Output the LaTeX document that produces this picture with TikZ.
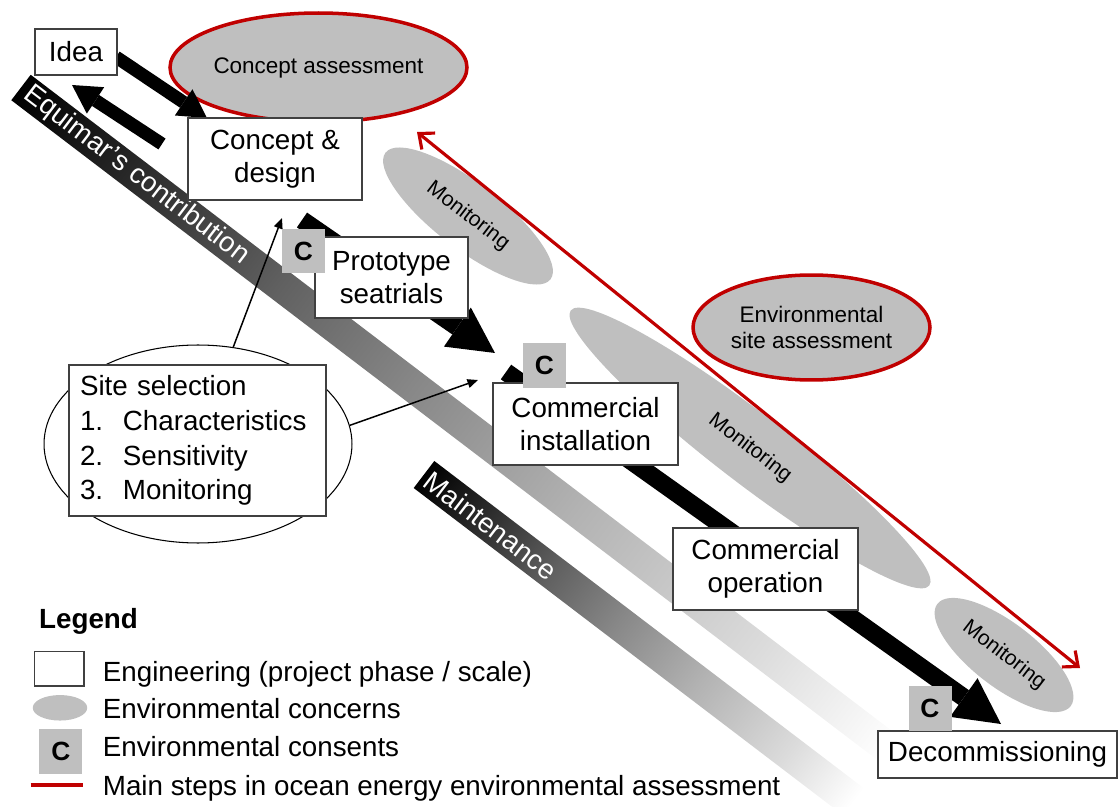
\documentclass[tikz,border=0pt]{standalone}
\usepackage{fontspec}
\setmainfont{Liberation Sans}
\usetikzlibrary{arrows.meta,shapes.geometric}

\definecolor{rojo}{HTML}{C00000}
\definecolor{gris}{HTML}{BFBFBF}
\definecolor{borde}{HTML}{404040}

% Degradado de las bandas (de negro a blanco)
\pgfdeclarehorizontalshading{bandfade}{100bp}{color(0bp)=(black); color(25bp)=(black); color(31bp)=(black!85); color(40bp)=(black!62); color(47.5bp)=(black!47); color(57bp)=(black!30); color(67.5bp)=(black!14); color(75bp)=(white); color(100bp)=(white)}

\begin{document}
\begin{tikzpicture}[
        x=0.02cm, y=-0.02cm,
        % Estilo para las fases de ingeniería (cajas blancas)
        phase/.style={draw=borde, line width=0.8pt, fill=white, align=center, inner sep=0pt, font=\fontsize{15.8}{18.9}\selectfont},
        % Estilo para las preocupaciones ambientales (elipses grises)
        concern/.style={ellipse, fill=gris, inner sep=0pt, rotate=-37.5, font=\fontsize{12}{14}\selectfont},
        % Estilo para las evaluaciones (elipses con borde rojo)
        assess/.style={ellipse, draw=rojo, line width=2pt, fill=gris, inner sep=0pt, minimum width=4.74cm, align=center, font=\fontsize{12.8}{15.1}\selectfont},
        % Estilo para los consentimientos
        consent/.style={fill=gris, minimum width=0.86cm, minimum height=0.9cm, inner sep=0pt, font=\fontsize{15}{18}\selectfont\bfseries},
        % Estilo para las bandas diagonales
        band/.style={shading=bandfade},
        bandtext/.style={text=white, font=\fontsize{15.8}{19}\selectfont},
        % Estilo para las flechas
        bigarrow/.style={line width=10.2pt, -{Triangle[length=26pt, width=27pt, line width=0pt]}},
        smallarrow/.style={line width=7.4pt, -{Triangle[length=16pt, width=18pt, line width=0pt]}},
        thinarrow/.style={line width=0.85pt, -{Triangle[length=6pt, width=5pt]}},
        redstep/.style={draw=rojo, line width=1.8pt, {Straight Barb[length=7pt, width=12pt]}-{Straight Barb[length=7pt, width=12pt]}},
        % Estilo para los textos de la leyenda
        legendtext/.style={anchor=base west, font=\fontsize{15.8}{19}\selectfont}
    ]
        \useasboundingbox (0,0) rectangle (1119,807);

        % --- Bandas diagonales ---
        \begin{scope}[transform canvas={shift={(21,87.5)}, rotate=-37.3}]
            \shade[band] (0,-16) rectangle (1092,16);
            \node[bandtext] (EQ) at (145,0) {Equimar’s contribution};
        \end{scope}
        \begin{scope}[transform canvas={shift={(424,474.5)}, rotate=-37.3}]
            \shade[band] (0,-17) rectangle (540,17);
            \node[bandtext] (MT) at (84,0) {Maintenance};
        \end{scope}

        % --- Elipses de seguimiento ---
        \node[concern, minimum width=4.16cm, minimum height=1.32cm] (M1) at (468,216) {Monitoring};
        \node[concern, minimum width=9.04cm, minimum height=1.40cm] (M2) at (750,448) {Monitoring};
        \node[concern, minimum width=3.36cm, minimum height=1.28cm] (M3) at (1004,655) {Monitoring};

        % --- Evaluaciones ---
        \node[assess, minimum height=2.18cm] (CA) at (318.5,67.5) {Concept assessment};
        \node[assess, minimum height=2.10cm] (SA) at (811.5,327.5) {Environmental\\site assessment};

        % Flecha roja: pasos principales
        \coordinate (R1) at (417,132);
        \coordinate (R2) at (1080,668);
        \draw[redstep] (R1) -- (R2);

        % --- Seleccion del sitio ---
        \node[draw, ellipse, line width=0.6pt, fill=white, minimum width=6.16cm, minimum height=3.96cm, inner sep=0pt] (SZ) at (198,444) {};

        % --- Flechas negras ---
        \coordinate (A1) at (116,57);
        \coordinate (A2) at (207,118);
        \coordinate (A3) at (162,144);
        \coordinate (A4) at (72,85);
        \coordinate (A5) at (302,220);
        \coordinate (A6) at (495,353);
        \coordinate (A7) at (506,372);
        \coordinate (A8) at (1001,724);
        \draw[smallarrow] (A1) -- (A2);
        \draw[smallarrow] (A3) -- (A4);
        \draw[bigarrow] (A5) -- (A6);
        \draw[bigarrow] (A7) -- (A8);

        % Flechas finas desde la seleccion del sitio
        \coordinate (T1) at (282,218);
        \coordinate (T2) at (478,380);
        \draw[thinarrow] (SZ.70) -- (T1);
        \draw[thinarrow] (SZ.7) -- (T2);

        % --- Fases del proyecto ---
        \node[phase, minimum width=1.64cm, minimum height=0.92cm] (ID) at (76,52) {Idea};
        \node[phase, minimum width=3.48cm, minimum height=1.64cm] (CD) at (275,159) {Concept \&\\design};
        \node[phase, minimum width=3.06cm, minimum height=1.62cm] (PS) at (391.5,277.5) {Prototype\\seatrials};
        \node[phase, minimum width=3.70cm, minimum height=1.64cm] (CI) at (585.5,424) {Commercial\\installation};
        \node[phase, minimum width=3.70cm, minimum height=1.64cm] (CO) at (765.5,569) {Commercial\\operation};
        \node[phase, minimum width=4.78cm, minimum height=0.94cm] (DC) at (997.5,754.5) {Decommissioning};
        \node[phase, align=left, text width=4.70cm, inner xsep=0.22cm, minimum height=3.02cm, font=\fontsize{15.8}{19.8}\selectfont] (SB) at (197.5,440.5)
            {Site selection\\
             \makebox[24.4pt][l]{1.}Characteristics\\
             \makebox[24.4pt][l]{2.}Sensitivity\\
             \makebox[24.4pt][l]{3.}Monitoring};

        % --- Consentimientos ---
        \node[consent] (C1) at (303.5,251) {C};
        \node[consent] (C2) at (544.5,365.5) {C};
        \node[consent] (C3) at (930,708.5) {C};

        % --- Leyenda ---
        \node[legendtext, font=\fontsize{15.8}{19}\selectfont\bfseries] (LG) at (33,628) {Legend};
        \node[phase, minimum width=0.99cm, minimum height=0.69cm] (L1) at (59.2,668.8) {};
        \node[ellipse, fill=gris, inner sep=0pt, minimum width=1.09cm, minimum height=0.51cm] (L2) at (60,707.8) {};
        \node[consent] (L3) at (60.8,751.8) {C};
        \draw[rojo, line width=1.8pt] (30.7,785) -- (83.3,785);
        \node[legendtext] (T11) at (96.7,681.7) {Engineering (project phase / scale)};
        \node[legendtext] (T12) at (96.7,718.3) {Environmental concerns};
        \node[legendtext] (T13) at (96.7,756.7) {Environmental consents};
        \node[legendtext] (T14) at (96.7,795) {Main steps in ocean energy environmental assessment};

    \end{tikzpicture}
\end{document}
